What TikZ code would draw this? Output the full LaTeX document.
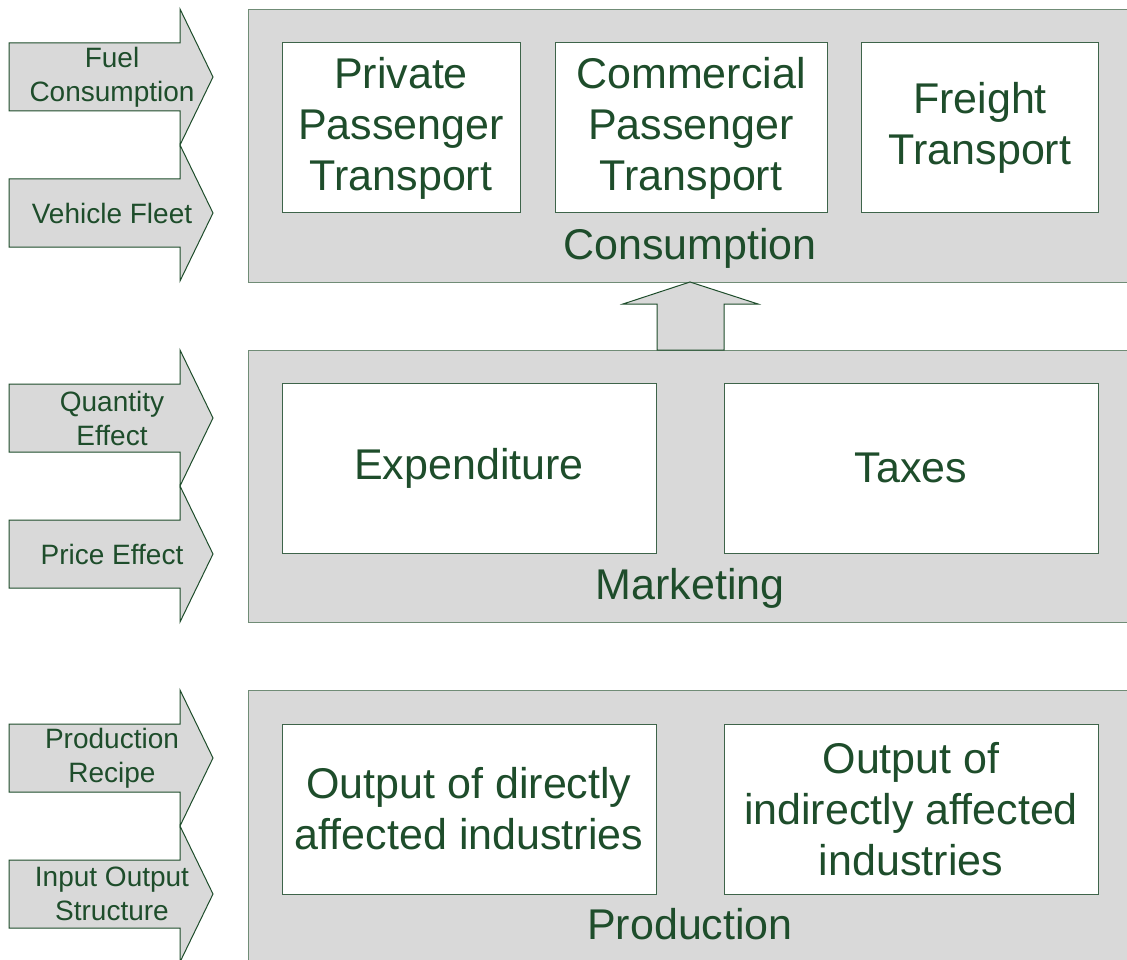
\documentclass[tikz,border=0pt]{standalone}
\usepackage{fontspec}
\setmainfont{Liberation Sans}
\usepackage{tikz}
\usetikzlibrary{arrows,shapes}
\definecolor{darkgreen}{RGB}{30,77,43}
\definecolor{panelline}{RGB}{112,140,118}
\definecolor{boxline}{RGB}{62,100,74}
\definecolor{panelgray}{RGB}{217,217,217}
\newcommand{\boxfont}{\fontsize{43}{51}\selectfont}
\newcommand{\arrowfont}{\fontsize{28}{34}\selectfont}
\tikzstyle{panel}=[rectangle, draw=panelline, fill=panelgray
,line width=1.4pt
,anchor=north west
,inner sep=0pt
]
\tikzstyle{item}=[rectangle, draw=boxline, fill=white, line width=1pt
,inner sep=0pt, align=center, text=darkgreen, font=\boxfont]
\tikzstyle{panel label}=[anchor=base, text=darkgreen, font=\boxfont]
\tikzstyle{side arrow}=[draw=darkgreen, fill=panelgray, line width=1pt]
\tikzstyle{side label}=[align=center, text=darkgreen, font=\arrowfont]

\begin{document}
\begin{tikzpicture}[x=1pt,y=-1pt]
    \clip (0,0) rectangle (1127,960);
    % The three layers, running past the right edge
    \node[panel, minimum width=900pt, minimum height=273pt] (consumption) at (248,9) {};
    \node[panel, minimum width=900pt, minimum height=272pt] (marketing) at (248,350) {};
    \node[panel, minimum width=900pt, minimum height=310pt] (production) at (248,690) {};

    \node[panel label] (consumption label) at (690,259) {Consumption};
    \node[panel label] (marketing label) at (690,599) {Marketing};
    \node[panel label] (production label) at (690,939) {Production};

    % Boxes inside the layers
    \foreach \pos/\boxw/\name/\txt in {{(401,128)}/238/private/{Private\\Passenger\\Transport},
        {(691,128)}/272/commercial/{Commercial\\Passenger\\Transport},
        {(980,128)}/237/freight/{Freight\\Transport},
        {(469,468)}/374/expenditure/{Expenditure},
        {(911,468)}/374/taxes/{Taxes},
        {(469,809)}/374/direct/{Output of directly\\affected industries},
        {(911,809)}/374/indirect/{Output of\\indirectly affected\\industries}}
        \node[item, minimum width=\boxw pt, minimum height=170pt] (\name) at \pos {\txt};

    % Inputs on the left
    \foreach \tip/\name/\txt in {77/fuel/{Fuel\\Consumption}, 213/fleet/{Vehicle Fleet},
        418/quantity/{Quantity\\Effect}, 554/price/{Price Effect},
        758/recipe/{Production\\Recipe}, 894/io/{Input Output\\Structure}}
    {
        \path[side arrow] (9,\tip-34) -- (180,\tip-34) -- (180,\tip-68) -- (213,\tip)
            -- (180,\tip+68) -- (180,\tip+34) -- (9,\tip+34) -- cycle;
        \node[side label] (\name) at (112,\tip) {\txt};
    }

    % Marketing feeds consumption
    \path[side arrow] (657,350) -- (657,304) -- (623,304) -- (690,282)
        -- (758,304) -- (724,304) -- (724,350) -- cycle;
\end{tikzpicture}
\end{document}
